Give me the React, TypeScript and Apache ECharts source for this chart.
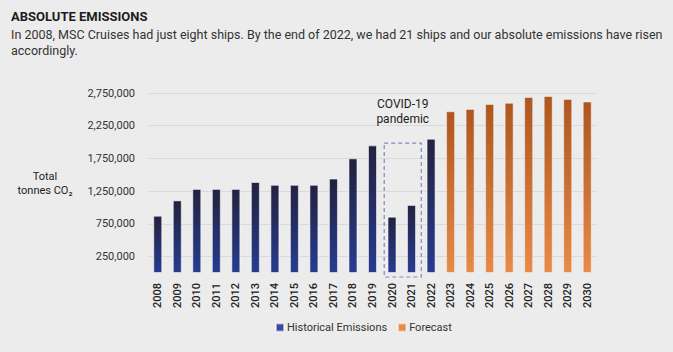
import React, { useEffect, useRef } from "react";
import * as echarts from "echarts";

const years = [
  "2008", "2009", "2010", "2011", "2012", "2013", "2014", "2015", "2016", "2017", "2018",
  "2019", "2020", "2021", "2022", "2023", "2024", "2025", "2026", "2027", "2028", "2029", "2030",
];
const historical = [
  875000, 1110000, 1285000, 1285000, 1285000, 1390000, 1347000, 1347000, 1347000, 1443000,
  1752000, 1950000, 860000, 1040000, 2052000, "-", "-", "-", "-", "-", "-", "-", "-",
];
const forecast = [
  "-", "-", "-", "-", "-", "-", "-", "-", "-", "-", "-", "-", "-", "-", "-",
  2471000, 2507000, 2583000, 2600000, 2690000, 2705000, 2660000, 2620000,
];
const covidYears = ["2020", "2021"];
const covidBoxTop = 1985000;

const FONT = "Roboto";

export default function App() {
  const ref = useRef<HTMLDivElement>(null);
  useEffect(() => {
    const chart = echarts.init(ref.current!, null, { renderer: "svg" });
    const option: any = {
      animation: false,
      backgroundColor: "#ececec",
      textStyle: { fontFamily: FONT },
      title: {
        text: "ABSOLUTE EMISSIONS",
        subtext:
          "In 2008, MSC Cruises had just eight ships. By the end of 2022, we had 21 ships and our absolute emissions have risen\naccordingly.",
        left: 6,
        top: 5,
        itemGap: 3,
        textStyle: { fontFamily: FONT, fontSize: 13, fontWeight: "bold", color: "#1c1c1c" },
        subtextStyle: { fontFamily: FONT, fontSize: 12.5, color: "#333", lineHeight: 16 },
      },
      legend: {
        bottom: 14,
        left: 270,
        itemWidth: 8,
        itemHeight: 8,
        itemGap: 10,
        icon: "rect",
        textStyle: { fontFamily: FONT, fontSize: 11, color: "#333", padding: [0, 0, 0, -2] },
        data: [
          { name: "Historical Emissions", itemStyle: { color: "#3a4b9c" } },
          { name: "Forecast", itemStyle: { color: "#e88a46" } },
        ],
      },
      grid: { left: 148, right: 76, top: 93, bottom: 79 },
      xAxis: {
        type: "category",
        data: years,
        axisLine: { show: false },
        axisTick: { show: false },
        axisLabel: {
          rotate: 90,
          margin: 10,
          fontFamily: FONT,
          fontSize: 11,
          fontWeight: 500,
          color: "#222",
        },
      },
      yAxis: {
        type: "value",
        min: 0,
        max: 2750000,
        interval: 250000,
        name: "Total\ntonnes CO\u2082",
        nameLocation: "middle",
        nameRotate: 0,
        nameGap: 103,
        nameTextStyle: { fontFamily: FONT, fontSize: 11, color: "#222", align: "center", lineHeight: 14 },
        axisLine: { show: false },
        axisTick: { show: false },
        axisLabel: {
          margin: 13,
          fontFamily: FONT,
          fontSize: 11,
          color: "#333",
          formatter: (v: number) => (v % 500000 === 0 ? "" : v.toLocaleString("en-US")),
        },
        splitLine: {
          lineStyle: { color: ["rgba(0,0,0,0)", "#dadada"], width: 1 },
        },
      },
      series: [
        {
          name: "Historical Emissions",
          type: "bar",
          stack: "e",
          barWidth: 9,
          data: historical,
          itemStyle: {
            borderColor: "rgba(255,255,255,0.55)",
            borderWidth: 1,
            color: new echarts.graphic.LinearGradient(0, 0, 0, 1, [
              { offset: 0, color: "#23223f" },
              { offset: 1, color: "#273c90" },
            ]),
          },
        },
        {
          name: "Forecast",
          type: "bar",
          stack: "e",
          barWidth: 9,
          data: forecast,
          itemStyle: {
            borderColor: "rgba(255,255,255,0.45)",
            borderWidth: 1,
            color: new echarts.graphic.LinearGradient(0, 0, 0, 1, [
              { offset: 0, color: "#ae561f" },
              { offset: 1, color: "#e68b49" },
            ]),
          },
        },
      ],
    };
    chart.setOption(option);

    const x0 = chart.convertToPixel({ xAxisIndex: 0 }, covidYears[0]) as number;
    const x1 = chart.convertToPixel({ xAxisIndex: 0 }, covidYears[1]) as number;
    const band = x1 - x0;
    const yTop = chart.convertToPixel({ yAxisIndex: 0 }, covidBoxTop) as number;
    const yBase = chart.convertToPixel({ yAxisIndex: 0 }, 0) as number;
    const left = x0 - band * 0.4;
    const right = x1 + band * 0.5;
    chart.setOption({
      graphic: [
        {
          type: "rect",
          shape: { x: left, y: yTop, width: right - left, height: yBase + 4 - yTop },
          style: { fill: "none", stroke: "#8088bf", lineWidth: 1.2, lineDash: [4, 3] },
          silent: true,
        },
        {
          type: "text",
          x: (left + right) / 2,
          y: yTop - 47,
          style: {
            text: "COVID-19\npandemic",
            fontFamily: FONT,
            fontSize: 12,
            lineHeight: 15,
            fill: "#1c1c1c",
            align: "center",
          },
          silent: true,
        },
      ],
    });
    return () => chart.dispose();
  }, []);
  return (
    <div
      ref={ref}
      style={{ position: "absolute", left: 0, top: 0, width: 673, height: 352 }}
    />
  );
}
